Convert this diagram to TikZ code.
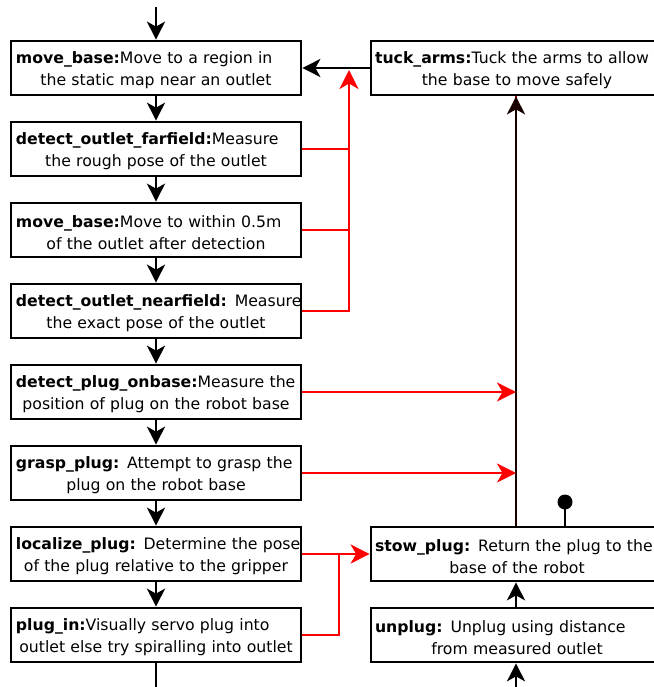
\documentclass[tikz,border=0pt]{standalone}
\usepackage{fontspec}
\setmainfont{DejaVu Sans}
\usetikzlibrary{arrows.meta}
\newcommand{\boxtext}[4]{\makebox[#4][l]{\rule{0pt}{17pt}\textbf{#1}#2}\\#3}
\begin{document}
\begin{tikzpicture}[x=1pt,y=-1pt,
  every node/.style={font=\fontsize{15.7}{22}\selectfont},
  lbox/.style={draw, line width=2.7pt, rectangle, minimum width=290pt, minimum height=54pt, inner sep=0pt, text width=280pt, align=center},
  rbox/.style={draw, line width=2.7pt, rectangle, minimum width=292pt, minimum height=54pt, inner sep=0pt, text width=284pt, align=center},
  arr/.style={line width=2.6pt, -{Stealth[length=18pt,width=18pt,inset=5pt]}},
  plain/.style={line width=2.6pt},
  redl/.style={line width=2.6pt, red},
  redarr/.style={line width=2.6pt, red, -{Stealth[length=19pt,width=19pt,inset=5.5pt]}}
]
\useasboundingbox (0,0) rectangle (653,687);
\node[lbox] (b1) at (156,68) {\boxtext{move\_base:}{Move to a region in}{the static map near an outlet}{280pt}};
\node[lbox] (b2) at (156,149) {\boxtext{detect\_outlet\_farfield:}{Measure}{the rough pose of the outlet}{280pt}};
\node[lbox] (b3) at (156,230) {\boxtext{move\_base:}{Move to within 0.5m}{of the outlet after detection}{280pt}};
\node[lbox] (b4) at (156,311) {\boxtext{detect\_outlet\_nearfield:}{ Measure}{the exact pose of the outlet}{280pt}};
\node[lbox] (b5) at (156,392) {\boxtext{detect\_plug\_onbase:}{Measure the}{position of plug on the robot base}{280pt}};
\node[lbox] (b6) at (156,473) {\boxtext{grasp\_plug:}{ Attempt to grasp the}{plug on the robot base}{280pt}};
\node[lbox] (b7) at (156,554) {\boxtext{localize\_plug:}{ Determine the pose}{of the plug relative to the gripper}{280pt}};
\node[lbox] (b8) at (156,635) {\boxtext{plug\_in:}{Visually servo plug into}{outlet else try spiralling into outlet}{280pt}};
\node[rbox] (tuck) at (517,68) {\boxtext{tuck\_arms:}{Tuck the arms to allow}{the base to move safely}{284pt}};
\node[rbox] (stow) at (517,554) {\boxtext{stow\_plug:}{ Return the plug to the}{base of the robot}{284pt}};
\node[rbox] (unplug) at (517,635) {\boxtext{unplug:}{ Unplug using distance}{from measured outlet}{284pt}};
\coordinate (top) at (156,7);
\coordinate (bot) at (156,690);
\coordinate (ubot) at (516,690);
\coordinate (pin) at (565,502);
\coordinate (rj) at (349,70);
\coordinate (rj2) at (339,554);
% black flow
\draw[arr] (top) -- (b1.north);
\draw[arr] (b1.south) -- (b2.north);
\draw[arr] (b2.south) -- (b3.north);
\draw[arr] (b3.south) -- (b4.north);
\draw[arr] (b4.south) -- (b5.north);
\draw[arr] (b5.south) -- (b6.north);
\draw[arr] (b6.south) -- (b7.north);
\draw[arr] (b7.south) -- (b8.north);
\draw[plain] (b8.south) -- (bot);
\draw[arr] (ubot) -- (ubot |- unplug.south);
\draw[arr] (ubot |- unplug.north) -- (ubot |- stow.south);
\draw[line width=2.9pt, red!70!black] (ubot |- stow.north) -- (ubot |- tuck.south);
\draw[arr, black!90!red] (ubot |- stow.north) -- (ubot |- tuck.south);
\draw[arr] (tuck.west) -- (b1.east);
\draw[plain] (pin |- stow.north) -- (pin);
\fill (pin) circle (7.5pt);
% red
\draw[redl] (b2.east) -- (b2.east -| rj);
\draw[redl] (b3.east) -- (b3.east -| rj);
\draw[redarr] (b4.east) -- (b4.east -| rj) -- (rj);
\draw[redarr] (b5.east) -- (b5.east -| ubot);
\draw[redarr] (b6.east) -- (b6.east -| ubot);
\draw[redarr] (b7.east) -- (stow.west);
\draw[redl] (b8.east) -- (b8.east -| rj2) -- (rj2);
\end{tikzpicture}
\end{document}
